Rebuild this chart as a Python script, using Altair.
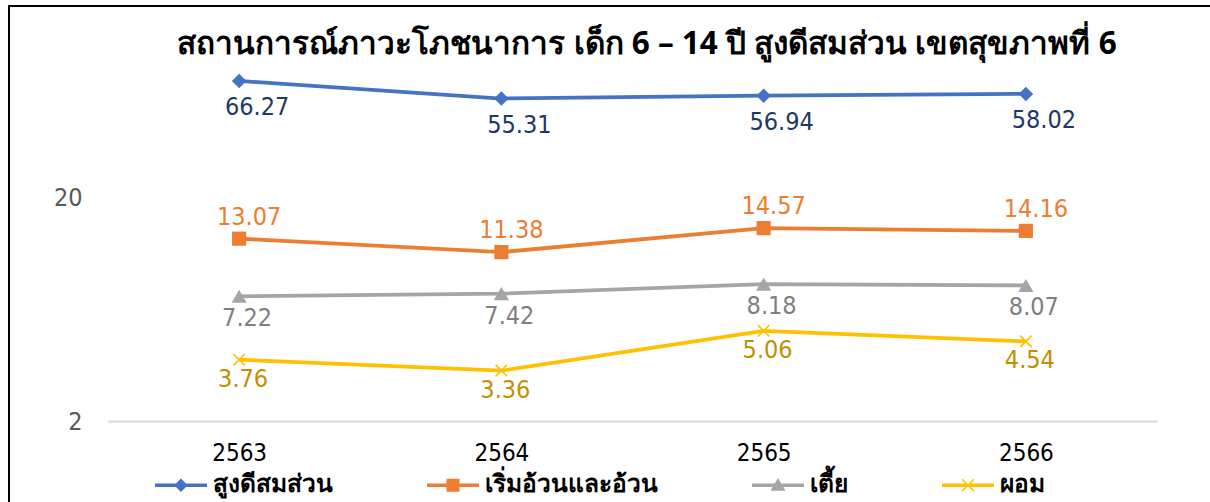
import altair as alt
import pandas as pd

years = ["2563", "2564", "2565", "2566"]
series_names = ["สูงดีสมส่วน", "เริ่มอ้วนและอ้วน", "เตี้ย", "ผอม"]
healthy = [66.27, 55.31, 56.94, 58.02]
overweight = [13.07, 11.38, 14.57, 14.16]
stunted = [7.22, 7.42, 8.18, 8.07]
wasted = [3.76, 3.36, 5.06, 4.54]
y_ticks = [2, 20]
title_text = "สถานการณ์ภาวะโภชนาการ เด็ก 6 – 14 ปี สูงดีสมส่วน เขตสุขภาพที่ 6"

line_colors = ["#4472C4", "#ED7D31", "#A5A5A5", "#FFC000"]
label_colors = ["#203864", "#ED7D31", "#7F7F7F", "#BF9000"]
marker_shapes = [
    "diamond",
    "square",
    "triangle-up",
    "M-1,-1L1,1M-1,1L1,-1",
]
marker_sizes = [210, 200, 230, 130]
label_offsets = [(18, 26), (10, -22), (8, 22), (4, 19)]

BAR = "M-1,-0.07H1V0.07H-1Z"
legend_paths = [
    BAR + "M0,-0.26L0.26,0L0,0.26L-0.26,0Z",
    BAR + "M-0.25,-0.25H0.25V0.25H-0.25Z",
    BAR + "M0,-0.28L0.29,0.21H-0.29Z",
    BAR + "M-0.25,-0.21L-0.21,-0.25L0.25,0.21L0.21,0.25Z"
    + "M0.21,-0.25L0.25,-0.21L-0.21,0.25L-0.25,0.21Z",
]

rows = []
for name, vals in zip(series_names, [healthy, overweight, stunted, wasted]):
    for yr, v in zip(years, vals):
        rows.append({"year": yr, "series": name, "value": v})
df = pd.DataFrame(rows)

NUM_FONT = "DejaVu Sans Condensed, Liberation Sans, sans-serif"
W, H = 1049, 380

x_enc = alt.X(
    "year:N",
    scale=alt.Scale(type="point", padding=0.5, domain=years),
    axis=alt.Axis(
        title=None, labelAngle=0, ticks=False, domain=True,
        domainColor="#D9D9D9", domainWidth=2, grid=False,
        labelFont=NUM_FONT, labelFontSize=24, labelColor="#000000",
        labelPadding=20,
    ),
)
y_enc = alt.Y(
    "value:Q",
    scale=alt.Scale(type="log", domain=[2, 100], nice=False),
    axis=alt.Axis(
        title=None, values=y_ticks, format="~g", grid=False, domain=False,
        ticks=False, labelFont=NUM_FONT, labelFontSize=25,
        labelColor="#595959", labelPadding=26,
    ),
)

base = alt.Chart(df).encode(x=x_enc, y=y_enc)

layers = []
for i, name in enumerate(series_names):
    sub = base.transform_filter(alt.datum.series == name)
    layers.append(sub.mark_line(color=line_colors[i], strokeWidth=3.8))
for i, name in enumerate(series_names):
    sub = base.transform_filter(alt.datum.series == name)
    filled = i < 3
    layers.append(
        sub.mark_point(
            shape=marker_shapes[i], size=marker_sizes[i], filled=filled,
            color=line_colors[i], opacity=1,
            strokeWidth=0 if filled else 1.6,
        )
    )
for i, name in enumerate(series_names):
    sub = base.transform_filter(alt.datum.series == name)
    dx, dy = label_offsets[i]
    layers.append(
        sub.mark_text(
            font=NUM_FONT, fontSize=25, color=label_colors[i],
            dx=dx, dy=dy, baseline="middle", align="center",
        ).encode(text=alt.Text("value:Q", format=".2f"))
    )

legend_props = dict(
    title=None, orient="none", direction="horizontal", columns=4,
    legendX=47, legendY=418, symbolSize=2704, symbolStrokeWidth=0,
    symbolOpacity=1, labelFont="Noto Sans", labelFontSize=24.5,
    labelFontWeight="bold", labelColor="#000000", labelOffset=6,
    columnPadding=94, labelLimit=400,
)
legend_layer = base.transform_filter("false").mark_point(
    filled=True, opacity=1
).encode(
    color=alt.Color(
        "series:N",
        scale=alt.Scale(domain=series_names, range=line_colors),
        legend=alt.Legend(**legend_props),
    ),
    shape=alt.Shape(
        "series:N",
        scale=alt.Scale(domain=series_names, range=legend_paths),
        legend=alt.Legend(**legend_props),
    ),
)
layers.append(legend_layer)

one = alt.Data(values=[{"t": title_text}])
title_layer = alt.Chart(one).mark_text(
    font="Noto Sans", fontSize=31.5, fontWeight="bold", color="#000000",
    align="center", baseline="middle",
).encode(x=alt.value(539), y=alt.value(4), text="t:N")
layers.append(title_layer)

frame = alt.Chart(alt.Data(values=[{"a": 1}])).mark_rect(
    fill=None, stroke="#000000", strokeWidth=2
).encode(
    x=alt.value(-99), x2=alt.value(1120), y=alt.value(-35), y2=alt.value(480)
)
layers.append(frame)

chart = alt.layer(*layers).properties(
    width=W, height=H, autosize=alt.AutoSizeParams(type="none"),
    padding={"left": 108, "top": 41, "right": 53, "bottom": 81},
    background="#FFFFFF",
).configure_view(strokeWidth=0, stroke="transparent")

chart.save("out.html", embed_options={"renderer": "svg", "actions": False})
